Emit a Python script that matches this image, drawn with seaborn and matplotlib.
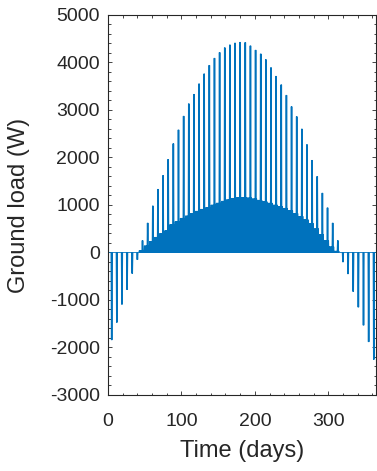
import numpy as np
import pandas as pd
import matplotlib
matplotlib.use("Agg")
import matplotlib.pyplot as plt
import seaborn as sns
from matplotlib.ticker import MultipleLocator

# Weekly spike load (W), one spike per week on days 7k+4 and 7k+5
spike_load = [-1840, -1470, -1090, -780, -440, -150, 250, 620, 980, 1330,
              1620, 1960, 2290, 2580, 2870, 3130, 3330, 3550, 3760, 3940,
              4090, 4210, 4310, 4370, 4410, 4425, 4420, 4350, 4260, 4180,
              4060, 3890, 3710, 3530, 3310, 3070, 2860, 2600, 2270, 1940,
              1600, 1250, 940, 620, 250, -200, -450, -820, -1150, -1530,
              -1880, -2250]

# Weekly base load (W) on the remaining days
base_load = [0, 0, 0, 0, 0, 0, 40, 140, 230, 320,
             400, 460, 590, 650, 720, 770, 820, 870, 910, 950,
             1000, 1040, 1080, 1110, 1140, 1160, 1160, 1150, 1130, 1100,
             1070, 1040, 1000, 970, 930, 880, 820, 760, 690, 610,
             500, 380, 250, 120, 30, 0, 0, 0, 0, 0,
             0, 0, 0]

spike_days = [4, 5]
n_days = 365

# Build the time series: each day goes back to zero then up to its level
t, load = [], []
for day in range(n_days):
    week = day // 7
    if day % 7 in spike_days and week < len(spike_load):
        level = spike_load[week]
    else:
        level = base_load[week]
    t += [day, day + 0.5]
    load += [0, level]
t.append(n_days)
load.append(0)
df = pd.DataFrame({"Time": t, "Load": load})

sns.set_style("ticks")
plt.rcParams['font.family'] = ['Liberation Sans', 'DejaVu Sans']
plt.rcParams['axes.unicode_minus'] = False

fig = plt.figure(figsize=(3.77, 4.71), dpi=100)
ax = fig.add_axes([0.2865, 0.1614, 0.7108, 0.8068])

sns.lineplot(data=df, x="Time", y="Load", estimator=None, sort=False,
             color='#0072BD', linewidth=0.6, ax=ax)

ax.set_xlim(0, 365)
ax.set_ylim(-3000, 5000)
ax.xaxis.set_major_locator(MultipleLocator(100))
ax.xaxis.set_minor_locator(MultipleLocator(20))
ax.yaxis.set_major_locator(MultipleLocator(1000))
ax.yaxis.set_minor_locator(MultipleLocator(200))

dark = '#262626'
for side in ['left', 'right', 'top', 'bottom']:
    ax.spines[side].set_visible(True)
    ax.spines[side].set_color(dark)
    ax.spines[side].set_linewidth(0.8)

ax.tick_params(which='both', direction='in', top=True, right=True,
               color=dark, labelcolor=dark, width=0.6)
ax.tick_params(which='major', length=3)
ax.tick_params(which='minor', length=1.8)
ax.tick_params(axis='y', which='major', labelsize=14, pad=6)
ax.tick_params(axis='x', which='major', labelsize=14, pad=13)

ax.set_xlabel("Time (days)", fontsize=17, color=dark)
ax.set_ylabel("Ground load (W)", fontsize=17, color=dark)
ax.xaxis.set_label_coords(0.5, -0.118)
ax.yaxis.set_label_coords(-0.29, 0.5)

fig.savefig("out.png", dpi=100)
